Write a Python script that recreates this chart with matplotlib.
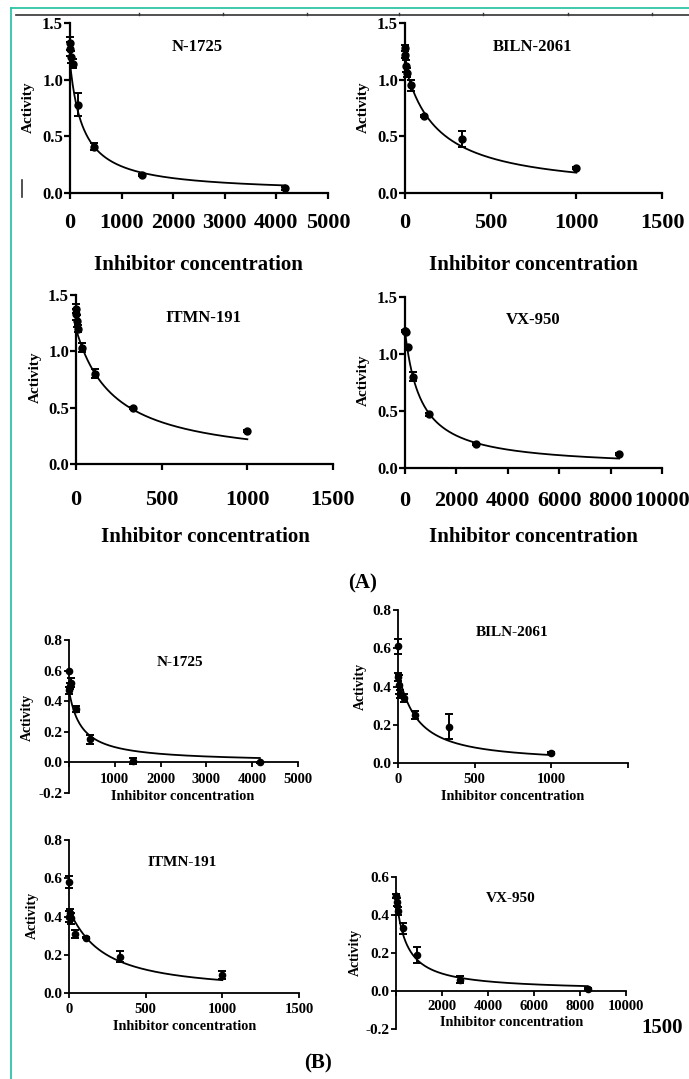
import numpy as np
import matplotlib
matplotlib.use('Agg')
import matplotlib.pyplot as plt
from matplotlib.lines import Line2D

W, H = 689, 1079
plt.rcParams['font.family'] = ['Liberation Serif', 'DejaVu Serif']
plt.rcParams['font.weight'] = 'bold'

# ---- (A) data ----
conc_a_n1725 = [1.9, 5.7, 17.1, 51.4, 154.3, 463, 1389, 4167]
act_a_n1725 = [1.27, 1.32, 1.20, 1.14, 0.78, 0.41, 0.16, 0.04]
err_a_n1725 = [0.06, 0.06, 0.05, 0.04, 0.10, 0.03, 0.01, 0.01]

conc_a_biln = [0.46, 1.37, 4.1, 12.3, 37, 111, 333, 1000]
act_a_biln = [1.28, 1.22, 1.12, 1.06, 0.95, 0.68, 0.48, 0.22]
err_a_biln = [0.03, 0.03, 0.05, 0.04, 0.05, 0.01, 0.07, 0.01]

conc_a_itmn = [0.46, 1.37, 4.1, 12.3, 37, 111, 333, 1000]
act_a_itmn = [1.38, 1.33, 1.27, 1.20, 1.03, 0.80, 0.50, 0.29]
err_a_itmn = [0.04, 0.05, 0.05, 0.03, 0.04, 0.04, 0.01, 0.01]

conc_a_vx = [3.8, 11.4, 34.3, 103, 309, 926, 2778, 8333]
act_a_vx = [1.20, 1.20, 1.19, 1.06, 0.80, 0.47, 0.21, 0.12]
err_a_vx = [0.01, 0.01, 0.01, 0.01, 0.04, 0.01, 0.01, 0.01]

# ---- (B) data ----
conc_b_n1725 = [1.9, 5.7, 17.1, 51.4, 154.3, 463, 1389, 4167]
act_b_n1725 = [0.60, 0.47, 0.50, 0.52, 0.35, 0.15, 0.01, 0.0]
err_b_n1725 = [0.0, 0.02, 0.02, 0.03, 0.02, 0.03, 0.02, 0.005]

conc_b_biln = [0.46, 1.37, 4.1, 12.3, 37, 111, 333, 1000]
act_b_biln = [0.61, 0.45, 0.41, 0.36, 0.34, 0.25, 0.19, 0.05]
err_b_biln = [0.04, 0.02, 0.05, 0.02, 0.02, 0.02, 0.065, 0.005]

conc_b_itmn = [0.46, 1.37, 4.1, 12.3, 37, 111, 333, 1000]
act_b_itmn = [0.58, 0.40, 0.42, 0.39, 0.31, 0.29, 0.19, 0.095]
err_b_itmn = [0.03, 0.03, 0.02, 0.03, 0.02, 0.005, 0.03, 0.02]

conc_b_vx = [3.8, 11.4, 34.3, 103, 309, 926, 2778, 8333]
act_b_vx = [0.50, 0.50, 0.47, 0.42, 0.33, 0.19, 0.06, 0.01]
err_b_vx = [0.01, 0.01, 0.02, 0.02, 0.03, 0.04, 0.02, 0.005]

# fitted curve parameters (top, IC50, hill)
fit_a = {'N-1725': (1.15, 257, 1.0), 'BILN-2061': (1.13, 189, 1.0),
         'ITMN-191': (1.2, 224, 1.0), 'VX-950': (1.2, 620, 1.0)}
fit_b = {'N-1725': (0.47, 270, 1.0), 'BILN-2061': (0.47, 120, 1.1),
         'ITMN-191': (0.43, 216, 1.1), 'VX-950': (0.5, 450, 1.0)}

xt_5000 = [0, 1000, 2000, 3000, 4000, 5000]
xt_1500 = [0, 500, 1000, 1500]
xt_10000 = [0, 2000, 4000, 6000, 8000, 10000]


def px_box(l, t, r, b):
    return [l / W, 1 - b / H, (r - l) / W, (b - t) / H]


def fx(x):
    return x / W


def fy(y):
    return 1 - y / H


fig = plt.figure(figsize=(W / 100, H / 100), dpi=100)

panels = [
    # name, data, fit, box, xticks, xlabels, ylim, yticks, big?, xtick pad, xlabel pos, ylabel pos, title pos
    ('N-1725', conc_a_n1725, act_a_n1725, err_a_n1725, fit_a['N-1725'], (70, 23, 328, 193),
     xt_5000, [str(v) for v in xt_5000], (0, 1.5), [0, 0.5, 1.0, 1.5], True, 10.5,
     (198, 265), (28, 107), (197, 47)),
    ('BILN-2061', conc_a_biln, act_a_biln, err_a_biln, fit_a['BILN-2061'], (405, 23, 662, 193),
     xt_1500, [str(v) for v in xt_1500], (0, 1.5), [0, 0.5, 1.0, 1.5], True, 10.5,
     (533, 265), (363, 107), (533, 47)),
    ('ITMN-191', conc_a_itmn, act_a_itmn, err_a_itmn, fit_a['ITMN-191'], (76, 295, 333, 464),
     xt_1500, [str(v) for v in xt_1500], (0, 1.5), [0, 0.5, 1.0, 1.5], True, 14.5,
     (205, 537), (35, 377), (203, 318)),
    ('VX-950', conc_a_vx, act_a_vx, err_a_vx, fit_a['VX-950'], (405, 297, 662, 468),
     xt_10000, [str(v) for v in xt_10000], (0, 1.5), [0, 0.5, 1.0, 1.5], True, 12.5,
     (533, 537), (363, 380), (533, 320)),
    ('N-1725', conc_b_n1725, act_b_n1725, err_b_n1725, fit_b['N-1725'], (69, 640, 298, 793),
     xt_5000, [''] + [str(v) for v in xt_5000[1:]], (-0.2, 0.8), [-0.2, 0, 0.2, 0.4, 0.6, 0.8], False, 4,
     (183, 797), (27, 717), (180, 662)),
    ('BILN-2061', conc_b_biln, act_b_biln, err_b_biln, fit_b['BILN-2061'], (398, 610, 628, 763),
     xt_1500, ['0', '500', '1000', ''], (0, 0.8), [0, 0.2, 0.4, 0.6, 0.8], False, 3.5,
     (513, 797), (360, 686), (512, 633)),
    ('ITMN-191', conc_b_itmn, act_b_itmn, err_b_itmn, fit_b['ITMN-191'], (69, 840, 299, 993),
     xt_1500, [str(v) for v in xt_1500], (0, 0.8), [0, 0.2, 0.4, 0.6, 0.8], False, 3.5,
     (185, 1027), (32, 915), (182, 863)),
    ('VX-950', conc_b_vx, act_b_vx, err_b_vx, fit_b['VX-950'], (396, 877, 626, 1029),
     xt_10000, [''] + [str(v) for v in xt_10000[1:]], (-0.2, 0.6), [-0.2, 0, 0.2, 0.4, 0.6], False, 3,
     (512, 1023), (355, 952), (511, 898)),
]

for (name, conc, act, err, fit, box, xticks, xlabels, ylim, yticks, big, xpad,
     xl_pos, yl_pos, t_pos) in panels:
    ax = fig.add_axes(px_box(*box))
    top, ic50, hill = fit
    xs = np.linspace(0, max(conc), 400)
    ax.plot(xs, top / (1 + (xs / ic50) ** hill), color='k', lw=1.3, zorder=2)
    ax.errorbar(conc, act, yerr=err, fmt='o', color='k', ms=5 if big else 4.5,
                capsize=3, elinewidth=1.4, capthick=1.4, clip_on=False, zorder=3)
    ax.set_xlim(0, xticks[-1])
    ax.set_ylim(*ylim)
    ax.set_xticks(xticks)
    ax.set_xticklabels(xlabels)
    ax.set_yticks(yticks)
    ax.set_yticklabels(['%.1f' % v for v in yticks])
    for s in ['top', 'right']:
        ax.spines[s].set_visible(False)
    lw = 1.6 if big else 1.3
    ax.spines['left'].set_linewidth(lw)
    ax.spines['bottom'].set_linewidth(lw)
    if ylim[0] < 0:
        ax.spines['bottom'].set_position(('data', 0))
    ax.patch.set_alpha(0)
    if big:
        ax.tick_params(axis='x', labelsize=16, width=lw, length=4, pad=xpad)
        ax.tick_params(axis='y', labelsize=12, width=lw, length=4, pad=1)
        xfs, yfs, tfs = 15, 11, 12
    else:
        ax.tick_params(axis='x', labelsize=10.5, width=lw, length=3.5, pad=xpad)
        ax.tick_params(axis='y', labelsize=11, width=lw, length=3.5, pad=1)
        xfs, yfs, tfs = 10.3, 10, 11
    ax.set_xlabel('Inhibitor concentration', fontsize=xfs, fontweight='bold')
    ax.xaxis.set_label_coords(fx(xl_pos[0]), fy(xl_pos[1]), transform=fig.transFigure)
    ax.xaxis.label.set_va('center')
    ax.set_ylabel('Activity', fontsize=yfs, fontweight='bold')
    ax.yaxis.set_label_coords(fx(yl_pos[0]), fy(yl_pos[1]), transform=fig.transFigure)
    ax.yaxis.label.set_va('center')
    fig.text(fx(t_pos[0]), fy(t_pos[1]), name, ha='center', va='center',
             fontsize=tfs, fontweight='bold')

# panel letters and the stray label
fig.text(fx(363), fy(583), '(A)', ha='center', va='center', fontsize=15, fontweight='bold')
fig.text(fx(318), fy(1063), '(B)', ha='center', va='center', fontsize=15, fontweight='bold')
fig.text(fx(662), fy(1028), '1500', ha='center', va='center', fontsize=15, fontweight='bold')

# page frame lines
teal = '#2ec4a6'
fig.add_artist(Line2D([fx(11), fx(11)], [fy(8), fy(1079)], color=teal, lw=1.3))
fig.add_artist(Line2D([fx(11), fx(689)], [fy(8), fy(8)], color=teal, lw=1.3))
fig.add_artist(Line2D([fx(16), fx(689)], [fy(15), fy(15)], color='#333333', lw=1.2))
for tx in [139, 223, 307, 399, 483, 568, 652]:
    fig.add_artist(Line2D([fx(tx), fx(tx)], [fy(15), fy(13)], color='#333333', lw=1.0))
fig.add_artist(Line2D([fx(22), fx(22)], [fy(180), fy(197)], color='#333333', lw=1.2))

fig.savefig('out.png', dpi=100)
